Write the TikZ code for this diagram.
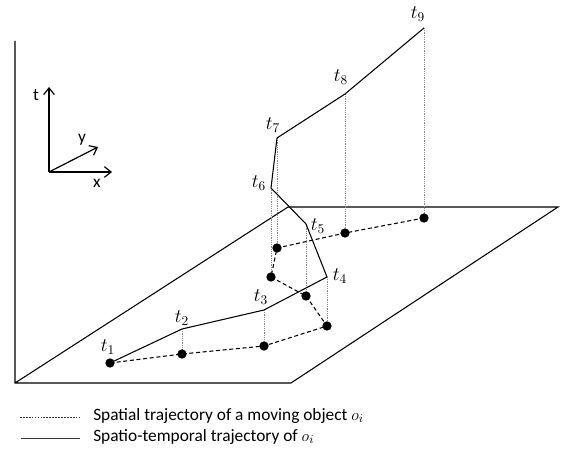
\documentclass[tikz,border=0pt]{standalone}
\usepackage{fontspec}
\setmainfont{Carlito}
\usetikzlibrary{arrows.meta}

\begin{document}
\begin{tikzpicture}[
    x=0.75pt, y=-0.75pt,
    font=\fontsize{13}{15}\selectfont,
    >={Straight Barb[length=5pt,width=8pt]},
    edge/.style={draw=black, line width=0.8pt},
    axis/.style={->, draw=black, line width=0.9pt},
    stpath/.style={draw=black, line width=0.8pt, line join=round},
    spath/.style={draw=black, line width=0.8pt, dash pattern=on 3pt off 2pt},
    proj/.style={draw=black!45, line width=0.35pt, densely dotted},
    dot/.style={circle, fill=black, inner sep=0pt, minimum size=7pt},
    tlbl/.style={inner sep=1pt, font=\fontsize{14}{16}\selectfont},
    lgd/.style={anchor=west, inner sep=0pt},
]
\useasboundingbox (0,0) rectangle (571,452);

% ---- Time axis and x-y plane --------------------------------------
\coordinate (top) at (15,41);
\coordinate (pbl) at (15,383);
\coordinate (pbr) at (291,383);
\coordinate (ptr) at (558,207);
\coordinate (ptl) at (288,207);
\draw[edge] (top) -- (pbl) -- (pbr) -- (ptr) -- (ptl) -- (pbl);

% ---- Axes legend --------------------------------------------------
\coordinate (o) at (49,172);
\coordinate (ax) at (112,172);
\coordinate (ay) at (98,147);
\coordinate (at) at (49,87);
\draw[axis] (o) -- (ax);
\draw[axis] (o) -- (ay);
\draw[axis] (o) -- (at);
\node at (36,95) (lt) {t};
\node at (97,183) (lx) {x};
\node at (82,140) (ly) {y};

% ---- Spatio-temporal trajectory points ----------------------------
\coordinate (p1) at (110,363);
\coordinate (p2) at (182,329);
\coordinate (p3) at (264,310);
\coordinate (p4) at (327,277);
\coordinate (p5) at (306,224);
\coordinate (p6) at (271,188);
\coordinate (p7) at (277,138);
\coordinate (p8) at (345,94);
\coordinate (p9) at (424,28);

% ---- Spatial trajectory points (on the plane) ---------------------
\coordinate (q1) at (110,363);
\coordinate (q2) at (182,354);
\coordinate (q3) at (264,346);
\coordinate (q4) at (327,326);
\coordinate (q5) at (306,296);
\coordinate (q6) at (271,277);
\coordinate (q7) at (277,248);
\coordinate (q8) at (345,233);
\coordinate (q9) at (424,218);

% ---- Projections --------------------------------------------------
\foreach \i in {2,...,9}
    \draw[proj] (p\i) -- (q\i);

\draw[spath] (q1) -- (q2) -- (q3) -- (q4) -- (q5) -- (q6) -- (q7) -- (q8) -- (q9);
\draw[stpath] (p1) -- (p2) -- (p3) -- (p4) -- (p5) -- (p6) -- (p7) -- (p8) -- (p9);

\foreach \i in {1,...,9}
    \node[dot] at (q\i) (s\i) {};

% ---- Time labels --------------------------------------------------
\node[tlbl] at (108,347) (t1) {$t_1$};
\node[tlbl] at (182,318) (t2) {$t_2$};
\node[tlbl] at (261,297) (t3) {$t_3$};
\node[tlbl] at (340,276) (t4) {$t_4$};
\node[tlbl] at (318,226) (t5) {$t_5$};
\node[tlbl] at (259,183) (t6) {$t_6$};
\node[tlbl] at (273,125) (t7) {$t_7$};
\node[tlbl] at (341,77) (t8) {$t_8$};
\node[tlbl] at (418,14) (t9) {$t_9$};

% ---- Legend -------------------------------------------------------
\coordinate (l1a) at (20,417);
\coordinate (l1b) at (79,417);
\coordinate (l2a) at (21,438);
\coordinate (l2b) at (80,438);
\draw[draw=black!80, line width=0.6pt, dash pattern=on 1.3pt off 0.9pt] (l1a) -- (l1b);
\draw[draw=black!80, line width=0.6pt] (l2a) -- (l2b);
\node[lgd] at (93,416) (lg1) {Spatial trajectory of a moving object $o_i$};
\node[lgd] at (93,437) (lg2) {Spatio-temporal trajectory of $o_i$};

\end{tikzpicture}
\end{document}
